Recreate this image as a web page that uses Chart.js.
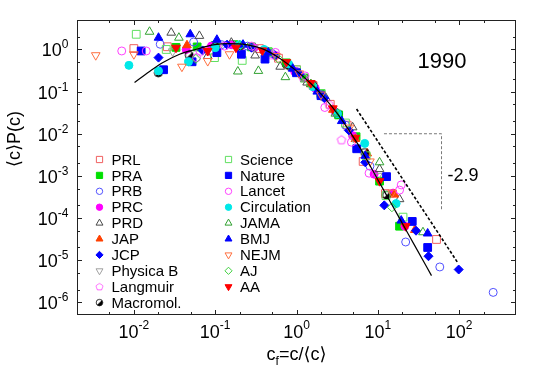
<!DOCTYPE html>
<html>
<head>
<meta charset="utf-8">
<script src="https://cdn.jsdelivr.net/npm/chart.js@4.4.0/dist/chart.umd.min.js"></script>
<style>
  body { margin: 0; background: #fff; }
  canvas { display: block; }
</style>
</head>
<body>
<canvas id="citeChart" width="545" height="382"></canvas>
<script>
// journal names, in legend order
const journals = ['PRL', 'PRA', 'PRB', 'PRC', 'PRD', 'JAP', 'JCP', 'Physica B', 'Langmuir', 'Macromol.',
    'Science', 'Nature', 'Lancet', 'Circulation', 'JAMA', 'BMJ', 'NEJM', 'AJ', 'AA'];

// rescaled citation distributions, [c_f, <c>P(c)]
const prl = [[0.01, 1.05], [0.0258, 1.16], [0.086, 0.92], [0.2, 1.25], [0.35, 1.05], [0.6, 0.62], [1.0, 0.33], [1.6, 0.14], [2.6, 0.05], [4.2, 0.016], [6.6, 2.2e-3], [12.4, 3.8e-4], [52.7, 3.1e-5]];
const pra = [[0.033, 1.12], [0.06, 1.15], [0.1, 1.25], [0.17, 1.3], [0.28, 1.15], [0.45, 0.88], [0.75, 0.48], [1.25, 0.21], [2.0, 0.09], [3.3, 0.028], [5.4, 8.5e-3], [10.5, 7.5e-4], [18.5, 6.4e-5]];
const prb = [[0.0211, 1.33], [0.0543, 1.5], [0.12, 1.3], [0.25, 1.2], [0.5, 0.8], [1.0, 0.3], [2.0, 0.085], [4.0, 0.016], [8.0, 1.7e-3], [22, 2.7e-5], [57.8, 6.9e-6], [262, 1.72e-6]];
const prc = [[0.044, 1.0], [0.09, 1.2], [0.16, 1.3], [0.3, 1.1], [0.55, 0.72], [0.95, 0.3], [1.7, 0.12], [3.0, 0.033], [4.9, 9e-3], [9.0, 1.1e-3], [15.4, 3.9e-4], [21.5, 6.4e-5]];
const prd = [[0.0288, 2.5], [0.064, 2.1], [0.081, 0.7], [0.158, 1.45], [0.31, 0.72], [0.63, 0.39], [1.35, 0.164], [2.3, 0.07], [4.9, 0.0142], [10.5, 1.45e-3], [18.5, 2.8e-4]];
const jap = [[0.045, 1.26], [0.1, 1.2], [0.2, 1.25], [0.4, 0.95], [0.8, 0.42], [1.5, 0.15], [2.8, 0.037], [5.3, 7.5e-3], [7.4, 3.4e-3], [16, 3.6e-4], [28.5, 5.2e-5]];
const jcp = [[0.0201, 0.64], [0.07, 0.95], [0.14, 1.3], [0.28, 1.1], [0.55, 0.7], [1.1, 0.26], [2.2, 0.07], [4.4, 0.012], [7.0, 2.1e-3], [12.0, 2.0e-4], [29.5, 5.0e-5], [42, 1.24e-5], [98.7, 6.0e-6]];
const physicaB = [[0.03, 0.9], [0.11, 1.1], [0.3, 1.1], [0.8, 0.4], [2.0, 0.08], [5.0, 8e-3], [10, 1.0e-3]];
const langmuir = [[0.065, 0.9], [0.2, 1.1], [0.5, 0.75], [1.2, 0.22], [2.5, 0.05], [3.57, 7.2e-3]];
const macromol = [[0.02, 0.28], [0.048, 0.73], [0.1, 1.15], [0.2, 1.2], [0.4, 0.95], [0.8, 0.42], [1.6, 0.14], [3.2, 0.03], [6.9, 3.6e-3], [12.8, 3.5e-4]];
const science = [[0.0107, 2.29], [0.025, 1.0], [0.098, 0.64], [0.215, 0.55], [0.45, 0.85], [1.0, 0.33], [2.0, 0.09], [4.0, 0.018], [7.2, 3.0e-3], [12.6, 3.4e-4], [20.4, 1.05e-4]];
const nature = [[0.0123, 0.92], [0.0232, 0.33], [0.052, 0.51], [0.105, 0.84], [0.21, 0.77], [0.41, 0.59], [1.0, 0.28], [2.0, 0.08], [5.5, 4.4e-3], [12.8, 9.6e-4], [26.5, 8.3e-5], [41, 2.0e-5]];
const lancet = [[0.0071, 0.92], [0.0142, 0.92], [0.059, 0.64], [0.13, 1.2], [0.28, 1.2], [0.55, 0.85], [1.27, 0.236], [2.23, 0.042], [4.74, 6.3e-3], [7.8, 1.16e-3], [18.5, 4.6e-4], [19.4, 6.1e-4]];
const circulation = [[0.0087, 0.42], [0.0201, 0.31], [0.047, 0.51], [0.1, 1.1], [0.2, 1.3], [0.4, 1.0], [0.8, 0.45], [1.6, 0.13], [3.2, 0.03], [6.9, 5.9e-3], [16.8, 2.2e-4]];
const jama = [[0.0156, 2.63], [0.0358, 1.9], [0.19, 0.3], [0.34, 0.31], [0.73, 0.22], [1.5, 0.15], [3.0, 0.03], [10.5, 2.1e-3], [35.9, 4.6e-5]];
const bmj = [[0.0201, 1.9], [0.0494, 2.29], [0.105, 1.7], [0.22, 1.3], [0.45, 0.85], [0.9, 0.35], [1.8, 0.1], [3.6, 0.02], [7.0, 3.0e-3], [19.4, 8.7e-5], [41, 4.3e-5]];
const nejm = [[0.0034, 0.73], [0.01, 0.77], [0.039, 0.39], [0.081, 0.53], [0.15, 0.77], [0.56, 0.7], [1.08, 0.27], [2.0, 0.085], [4.5, 0.014], [8.0, 2.2e-3], [15, 4e-4]];
const aj = [[0.058, 0.6], [0.2, 1.2], [0.6, 0.6], [1.5, 0.15], [3.0, 0.035], [14.9, 1.8e-4]];
const aa = [[0.033, 1.1], [0.081, 0.92], [0.18, 1.1], [0.38, 0.95], [0.75, 0.5], [1.5, 0.16], [2.8, 0.04], [5.3, 8e-3], [10.5, 7.5e-4], [22, 6.4e-5]];

// lognormal fit (solid)
const fitX = [0.0102, 0.0156, 0.0228, 0.0365, 0.0586, 0.094, 0.151, 0.24, 0.39, 0.62, 1.0, 1.5, 2.2, 3.3, 5.71, 8, 12, 18, 28, 45.7];
const fitY = [0.164, 0.30, 0.49, 0.77, 1.01, 1.28, 1.37, 1.30, 1.02, 0.62, 0.31, 0.156, 0.072, 0.0274, 5.6e-3, 1.76e-3, 4.35e-4, 1.08e-4, 2.34e-5, 4.3e-6];

// power law guide, slope -2.9
const powX = [5.48, 97.3];
const powY = [0.0386, 8.4e-6];
const guideX = [11.9, 60.7, 60.7];
const guideY = [0.01, 0.01, 1.58e-4];

// axis ticks
const xMajor = [0.01, 0.1, 1, 10, 100];
const yMajor = [1e-6, 1e-5, 1e-4, 1e-3, 1e-2, 1e-1, 1];
const minorMult = [2, 5];

const journalData = [prl, pra, prb, prc, prd, jap, jcp, physicaB, langmuir, macromol,
    science, nature, lancet, circulation, jama, bmj, nejm, aj, aa];

const FONT = '"Liberation Sans", Arial, "DejaVu Sans", sans-serif';

// custom symbols for pentagon and half filled circle
function makePentagon(color) {
    const c = document.createElement('canvas');
    c.width = 12; c.height = 12;
    const g = c.getContext('2d');
    g.strokeStyle = color; g.lineWidth = 1;
    g.beginPath();
    for (let k = 0; k < 5; k++) {
        const a = -Math.PI / 2 + k * 2 * Math.PI / 5;
        const px = 6 + 4.5 * Math.cos(a), py = 6.3 + 4.5 * Math.sin(a);
        k ? g.lineTo(px, py) : g.moveTo(px, py);
    }
    g.closePath(); g.stroke();
    return c;
}
function makeHalfCircle() {
    const c = document.createElement('canvas');
    c.width = 12; c.height = 12;
    const g = c.getContext('2d');
    g.fillStyle = '#000';
    g.beginPath(); g.moveTo(6, 6); g.arc(6, 6, 4, -Math.PI / 4, 3 * Math.PI / 4); g.closePath(); g.fill();
    g.strokeStyle = '#000'; g.lineWidth = 1;
    g.beginPath(); g.arc(6, 6, 4, 0, 2 * Math.PI); g.stroke();
    return c;
}

// marker style per journal: shape, colour, filled, rotation
const markers = [
    { shape: 'rect', color: '#f06060', filled: false },
    { shape: 'rect', color: '#00e000', filled: true },
    { shape: 'circle', color: '#5050ff', filled: false },
    { shape: 'circle', color: '#ff00ff', filled: true },
    { shape: 'triangle', color: '#484848', filled: false },
    { shape: 'triangle', color: '#ff4000', filled: true },
    { shape: 'rectRot', color: '#0000ff', filled: true },
    { shape: 'triangle', color: '#a0a0a0', filled: false, rotation: 180 },
    { shape: makePentagon('#ff50ff'), color: '#ff50ff', filled: false },
    { shape: makeHalfCircle(), color: '#000000', filled: false },
    { shape: 'rect', color: '#60e060', filled: false },
    { shape: 'rect', color: '#0000ff', filled: true },
    { shape: 'circle', color: '#ff40ff', filled: false },
    { shape: 'circle', color: '#00e8e8', filled: true },
    { shape: 'triangle', color: '#30a030', filled: false },
    { shape: 'triangle', color: '#0000ff', filled: true },
    { shape: 'triangle', color: '#ff7040', filled: false, rotation: 180 },
    { shape: 'rectRot', color: '#40d040', filled: false },
    { shape: 'triangle', color: '#ff0000', filled: true, rotation: 180 }
];
const radiusFor = { rect: 5.5, circle: 4, triangle: 5, rectRot: 4.5 };

const toPoints = (xs, ys) => xs.map((v, i) => ({ x: v, y: ys[i] }));

const datasets = journals.map((name, i) => {
    const m = markers[i];
    return {
        label: name,
        data: journalData[i].map(p => ({ x: p[0], y: p[1] })),
        pointStyle: m.shape,
        pointRotation: m.rotation || 0,
        pointRadius: typeof m.shape === 'string' ? radiusFor[m.shape] : 5,
        pointBorderWidth: 1,
        pointBorderColor: m.color,
        pointBackgroundColor: m.filled ? m.color : 'rgba(0,0,0,0)',
        showLine: false,
        order: 100 - i
    };
});

datasets.push({
    label: 'fit',
    data: toPoints(fitX, fitY),
    showLine: true,
    borderColor: '#000',
    borderWidth: 1.2,
    pointRadius: 0,
    cubicInterpolationMode: 'monotone',
    order: 1
});
datasets.push({
    label: 'slope',
    data: toPoints(powX, powY),
    showLine: true,
    borderColor: '#000',
    borderWidth: 1.6,
    borderDash: [3, 2],
    pointRadius: 0,
    order: 0
});
datasets.push({
    label: 'guide',
    data: toPoints(guideX, guideY),
    showLine: true,
    borderColor: '#555',
    borderWidth: 0.8,
    borderDash: [3, 2],
    pointRadius: 0,
    order: 0
});

function allTicks(major) {
    const out = [];
    major.concat([major[0] / 10]).forEach(d => {
        out.push({ v: d, major: true });
        minorMult.forEach(m => out.push({ v: d * m, major: false }));
    });
    return out;
}

// frame, inward ticks, power of ten labels, titles, legend
const decorations = {
    id: 'decorations',
    afterDraw(chart) {
        const { ctx, chartArea: a, scales: { x, y } } = chart;
        ctx.save();
        ctx.strokeStyle = '#222';
        ctx.lineWidth = 1;
        ctx.strokeRect(a.left + 0.5, a.top + 0.5, a.right - a.left - 1, a.bottom - a.top - 1);

        ctx.beginPath();
        allTicks(xMajor).forEach(t => {
            if (t.v <= x.min || t.v >= x.max) return;
            const px = Math.round(x.getPixelForValue(t.v)) + 0.5;
            const len = t.major ? 5 : 3;
            ctx.moveTo(px, a.bottom); ctx.lineTo(px, a.bottom - len);
            ctx.moveTo(px, a.top); ctx.lineTo(px, a.top + len);
        });
        allTicks(yMajor).forEach(t => {
            if (t.v <= y.min || t.v >= y.max) return;
            const py = Math.round(y.getPixelForValue(t.v)) + 0.5;
            const len = t.major ? 5 : 3;
            ctx.moveTo(a.left, py); ctx.lineTo(a.left + len, py);
            ctx.moveTo(a.right, py); ctx.lineTo(a.right - len, py);
        });
        ctx.stroke();

        ctx.fillStyle = '#000';
        ctx.textBaseline = 'alphabetic';
        ctx.textAlign = 'left';
        const big = '18px ' + FONT, small = '12px ' + FONT;
        xMajor.forEach(v => {
            const e = String(Math.round(Math.log10(v)));
            ctx.font = big; const wb = ctx.measureText('10').width;
            ctx.font = small; const we = ctx.measureText(e).width;
            const start = x.getPixelForValue(v) - (wb + we) / 2;
            ctx.font = big; ctx.fillText('10', start, 338);
            ctx.font = small; ctx.fillText(e, start + wb, 329);
        });
        yMajor.forEach(v => {
            const e = String(Math.round(Math.log10(v)));
            const py = y.getPixelForValue(v);
            ctx.font = big; const wb = ctx.measureText('10').width;
            ctx.font = small; const we = ctx.measureText(e).width;
            const start = 68.5 - wb - we;
            ctx.font = big; ctx.fillText('10', start, py + 7);
            ctx.font = small; ctx.fillText(e, start + wb, py - 1);
        });

        // x title c_f=c/<c>
        ctx.font = big; const w1 = ctx.measureText('c').width, w3 = ctx.measureText('=c/⟨c⟩').width;
        ctx.font = small; const w2 = ctx.measureText('f').width;
        let sx = (a.left + a.right) / 2 - (w1 + w2 + w3) / 2;
        ctx.font = big; ctx.fillText('c', sx, 360);
        ctx.font = small; ctx.fillText('f', sx + w1, 365);
        ctx.font = big; ctx.fillText('=c/⟨c⟩', sx + w1 + w2, 360);

        // y title
        ctx.save();
        ctx.translate(15, 139);
        ctx.rotate(-Math.PI / 2);
        ctx.textAlign = 'center';
        ctx.textBaseline = 'middle';
        ctx.font = big;
        ctx.fillText('⟨c⟩P(c)', 0, 0);
        ctx.restore();

        ctx.textAlign = 'center';
        ctx.textBaseline = 'middle';
        ctx.font = '22px ' + FONT;
        ctx.fillText('1990', 442, 62);
        ctx.font = '18px ' + FONT;
        ctx.fillText('-2.9', 463, 176);

        // legend in two columns
        ctx.textAlign = 'left';
        ctx.font = '15px ' + FONT;
        journals.forEach((name, i) => {
            const col = i < 10 ? 0 : 1, row = i < 10 ? i : i - 10;
            const sy = 159.5 + row * 15.9;
            const symX = col ? 228.5 : 99.5;
            const m = markers[i];
            if (typeof m.shape === 'string') {
                ctx.fillStyle = m.filled ? m.color : 'rgba(0,0,0,0)';
                ctx.strokeStyle = m.color;
                ctx.lineWidth = 1;
                Chart.helpers.drawPoint(ctx, {
                    pointStyle: m.shape,
                    rotation: m.rotation || 0,
                    radius: radiusFor[m.shape] * 0.8,
                    borderWidth: 1
                }, symX, sy);
            } else {
                const s = 0.8;
                ctx.drawImage(m.shape, symX - m.shape.width * s / 2, sy - m.shape.height * s / 2,
                    m.shape.width * s, m.shape.height * s);
            }
            ctx.fillStyle = '#000';
            ctx.fillText(name, col ? 240 : 111.5, sy + 1);
        });
        ctx.restore();
    }
};

const ctx = document.getElementById('citeChart').getContext('2d');
const citeChart = new Chart(ctx, {
    type: 'scatter',
    data: { datasets: datasets },
    options: {
        responsive: false,
        animation: false,
        events: [],
        layout: { padding: { top: 20, right: 29, left: 0, bottom: 0 } },
        plugins: { legend: { display: false }, tooltip: { enabled: false } },
        scales: {
            x: {
                type: 'logarithmic',
                min: 0.002,
                max: 500,
                grid: { display: false },
                border: { display: false },
                ticks: { display: false },
                afterFit: scale => { scale.height = 67; }
            },
            y: {
                type: 'logarithmic',
                min: 5e-7,
                max: 5,
                grid: { display: false },
                border: { display: false },
                ticks: { display: false },
                afterFit: scale => { scale.width = 77; }
            }
        }
    },
    plugins: [decorations]
});
</script>
</body>
</html>
